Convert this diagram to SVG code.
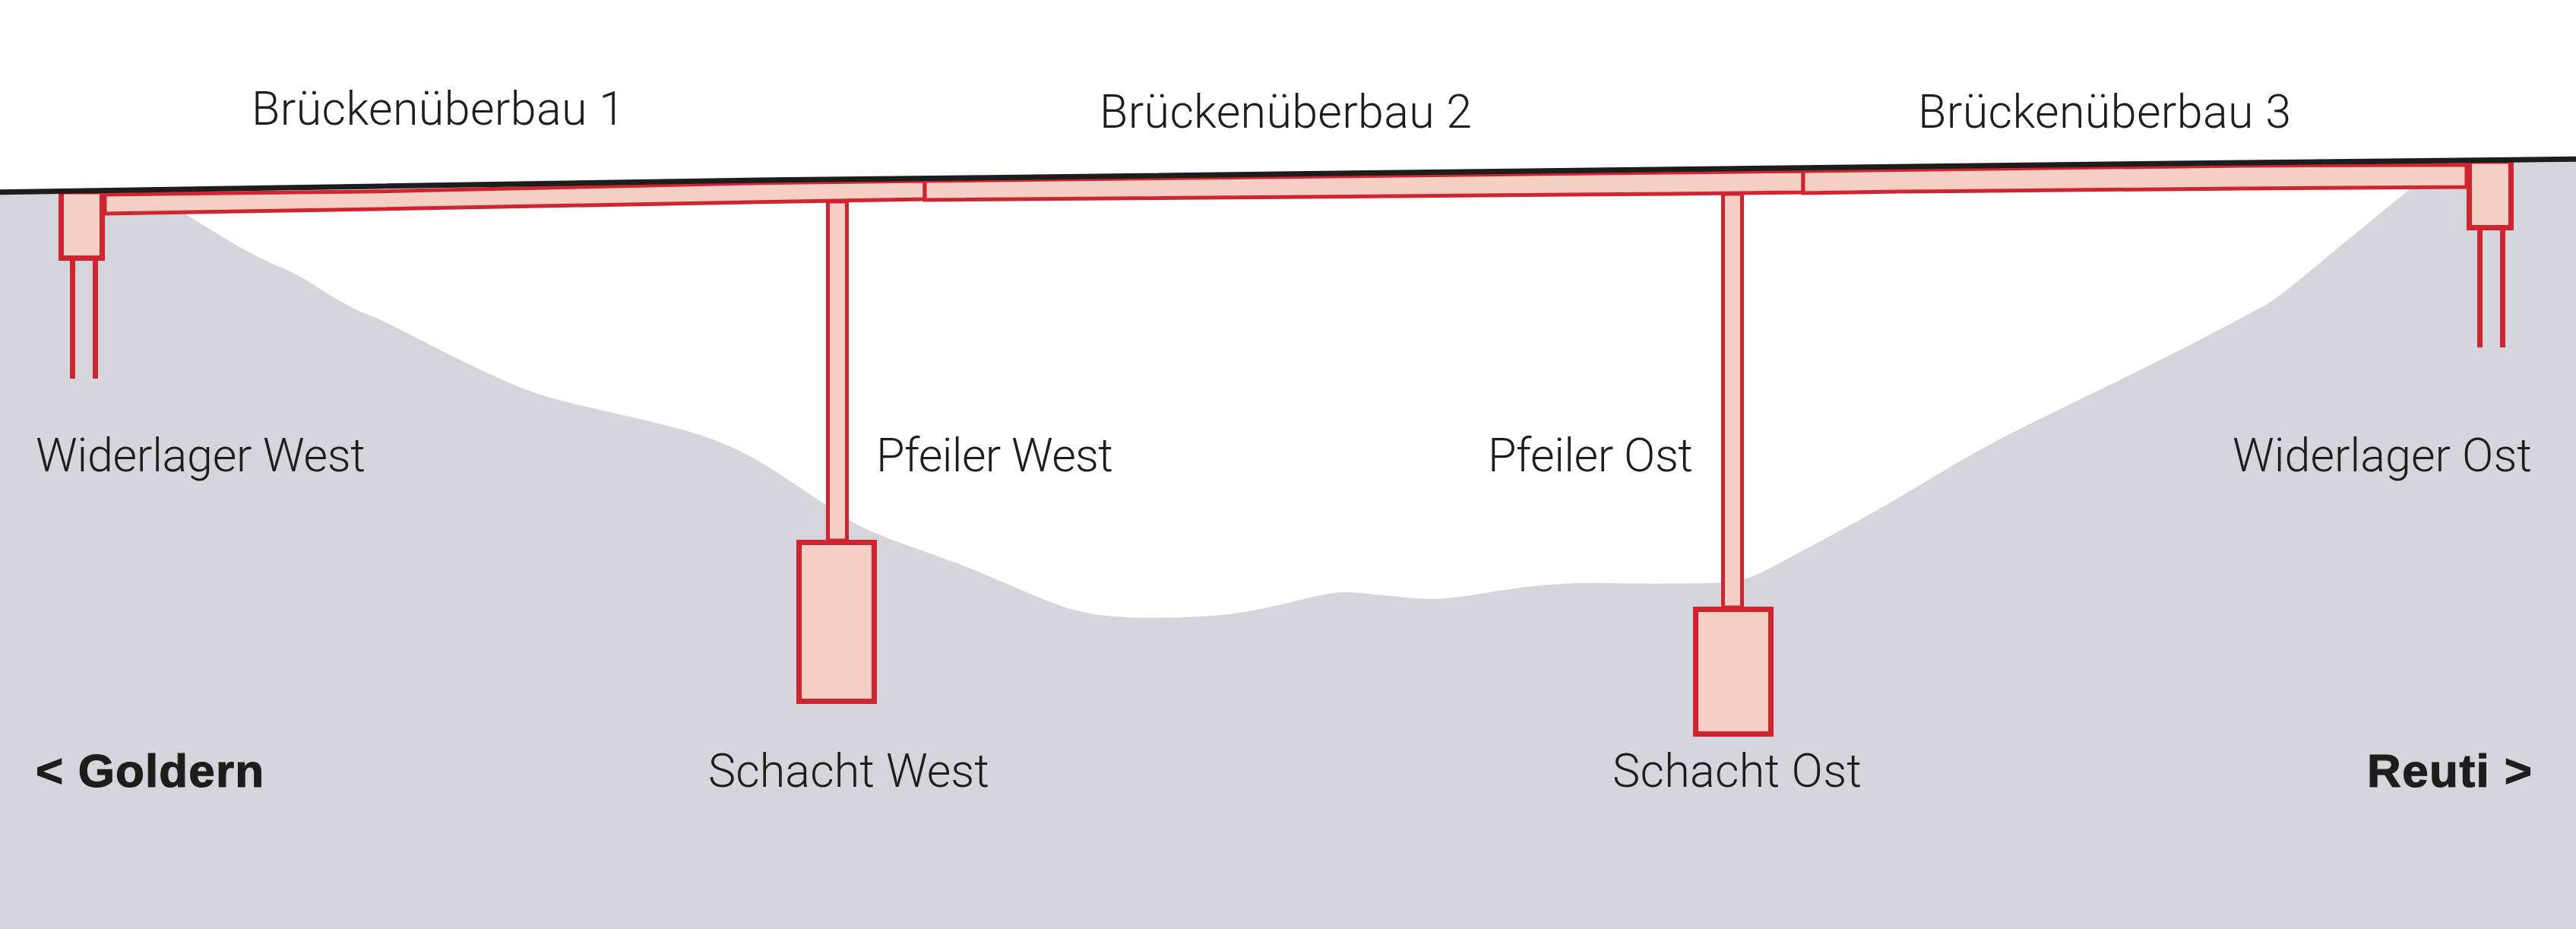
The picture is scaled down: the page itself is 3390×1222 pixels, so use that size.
<svg xmlns="http://www.w3.org/2000/svg" width="3390" height="1222" viewBox="0 0 3390 1222">
<style>
.s{fill:#f5cfc3;stroke:#cf2530;stroke-miterlimit:10}
.p{fill:none;stroke:#cf2530;stroke-width:7}
text{font-family:"Roboto","Liberation Sans",sans-serif;font-weight:300;font-size:61px;fill:#1d1d1b}
.b{font-family:"Liberation Sans",sans-serif;font-weight:700;font-size:62px;stroke:#1d1d1b;stroke-width:1.200px}
</style>
<rect width="3390" height="1222" fill="#ffffff"/>
<path id="terrain" fill="#d6d5db" d="M0,252 L245,250 L245,282 Q300,317 326.500,331 Q353,345 371.500,352.500 Q390,360 411.500,374 Q433,388 453,399 Q473,410 487,415 Q501,420 539.500,440 Q578,460 616,478.500 Q654,497 684.500,509.500 Q715,522 761,532.500 Q807,543 858,555 Q909,567 939.500,578.500 Q970,590 995.500,605 Q1021,620 1054.500,642.500 Q1088,665 1102.500,675 Q1117,685 1140.500,696 Q1164,707 1207,722 Q1250,737 1275,747 Q1300,757 1341.500,775 Q1383,793 1405.500,800 Q1428,807 1456.500,810 Q1485,813 1526.500,812.500 Q1568,812 1600,809.500 Q1632,807 1663.500,800 Q1695,793 1717.500,787.500 Q1740,782 1754.500,780 Q1769,778 1789.500,780 Q1810,782 1845,785.500 Q1880,789 1902.500,787 Q1925,785 1963.500,778.500 Q2002,772 2040,769 Q2078,766 2116.500,767 Q2155,768 2210.500,767.500 Q2266,767 2283,765 Q2300,763 2338.500,742.500 Q2377,722 2428,694.500 Q2479,667 2545,627 Q2611,587 2672.500,557 Q2734,527 2797.500,496 Q2861,465 2905.500,441.500 Q2950,418 2970,407.500 Q2990,397 3010,381 L3150,266 Q3160,258 3170,250 L3170,212 L3390,209 V1222 H0 Z"/>
<g id="connectors">
<path class="p" d="M95.500,339 V498 M125.500,339 V498 M3263.500,300 V457 M3293.500,300 V457"/>
</g>
<g id="ueberbau">
<path class="s" stroke-width="5" d="M138,256 L500,251.700 L1000,240.700 L1217,238 L1217,262 L1000,265.700 L500,275 L138,281 Z"/>
<path class="s" stroke-width="5" d="M1217,238 L2373,225 L2373,253 L2200,255 L1217,263 Z"/>
<path class="s" stroke-width="5" d="M2373,225 L2950,218 L3246,216.700 L3246,246 L2950,248 L2500,252 L2373,254 Z"/>
</g>
<g id="pfeiler-west"><rect class="s" stroke-width="5" x="1089.500" y="265" width="25" height="446"/></g>
<g id="pfeiler-ost"><rect class="s" stroke-width="5" x="2267.500" y="255" width="25" height="544"/></g>
<g id="schacht-west"><rect class="s" stroke-width="7" x="1051.500" y="713.500" width="99" height="209"/></g>
<g id="schacht-ost"><rect class="s" stroke-width="7" x="2231.500" y="801.500" width="99" height="164"/></g>
<g id="widerlager-west"><rect class="s" stroke-width="7" x="80.500" y="252" width="54" height="87.500"/></g>
<g id="widerlager-ost"><rect class="s" stroke-width="7" x="3249.500" y="212" width="55" height="87.500"/></g>
<path id="fahrbahn" fill="none" stroke="#1d1d1b" stroke-width="7" d="M0,252.700 L500,245 L1000,237 L1300,233.700 L2200,222.700 L2500,219.300 L2950,214 L3390,209.300"/>
<g id="labels">
<text x="331" y="164" textLength="491">Brückenüberbau 1</text>
<text x="1447" y="168" textLength="490">Brückenüberbau 2</text>
<text x="2524" y="168" textLength="491">Brückenüberbau 3</text>
<text x="47" y="620" textLength="434">Widerlager West</text>
<text x="1153" y="620" textLength="312">Pfeiler West</text>
<text x="1958" y="620" textLength="270">Pfeiler Ost</text>
<text x="2938" y="620" textLength="394">Widerlager Ost</text>
<text x="932" y="1035" textLength="370">Schacht West</text>
<text x="2122" y="1035" textLength="328">Schacht Ost</text>
<text class="b" x="47" y="1035" textLength="300">&lt; Goldern</text>
<text class="b" x="3115" y="1035" textLength="217">Reuti &gt;</text>
</g>
</svg>
